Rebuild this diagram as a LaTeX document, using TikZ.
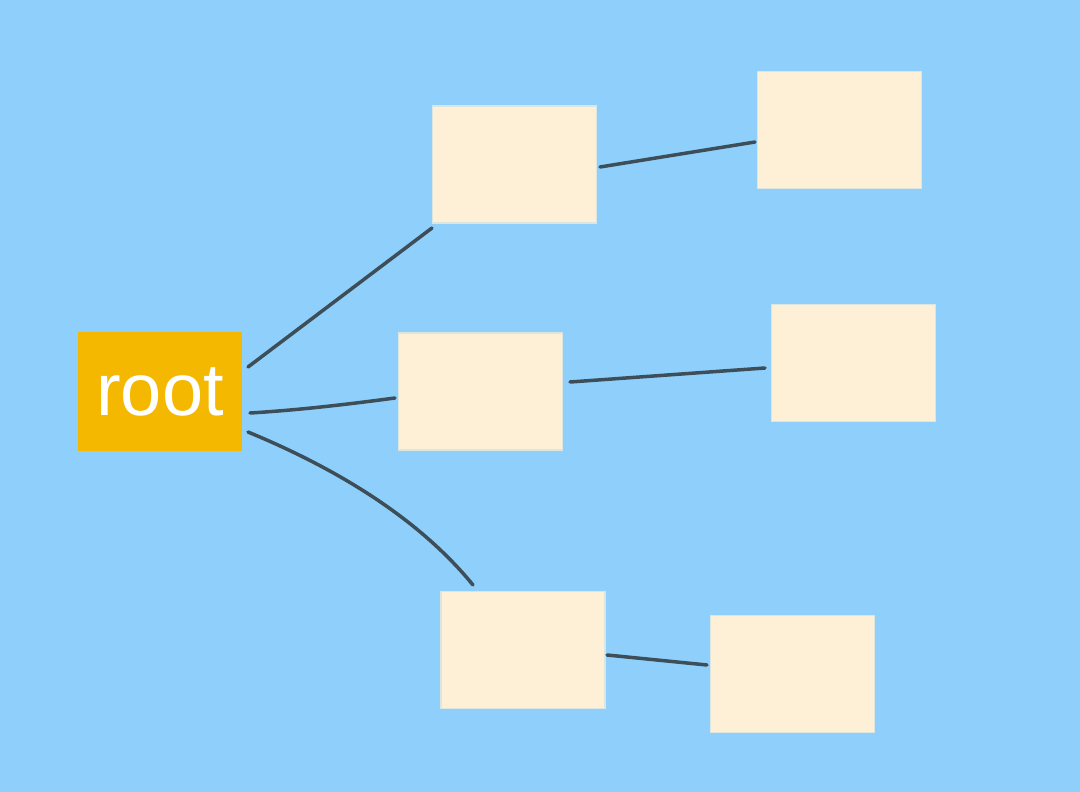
\documentclass[tikz,border=0pt]{standalone}
\usepackage{fontspec}
\setmainfont{Liberation Sans}
\definecolor{bgblue}{HTML}{8ED0FB}
\definecolor{rootorange}{HTML}{F5B800}
\definecolor{cream}{HTML}{FDF0D6}
\definecolor{edgegrey}{HTML}{3E4E58}
\begin{document}
\begin{tikzpicture}[x=1pt,y=-1pt,
  leaf/.style={fill=cream,draw=cream!70!bgblue,line width=1.5pt,minimum width=164pt,minimum height=117pt,inner sep=0pt},
  rootbox/.style={fill=rootorange,minimum width=164pt,minimum height=119pt,inner sep=0pt,text=white,font=\fontsize{74}{80}\selectfont},
  link/.style={draw=edgegrey,line width=3.5pt,line cap=round}]
\fill[bgblue] (0,0) rectangle (1080,792);
\useasboundingbox (0,0) rectangle (1080,792);
\node[rootbox] (root) at (160,391.5) {root};
\node[leaf] (A) at (514.5,164.5) {};
\node[leaf] (B) at (480.5,391.5) {};
\node[leaf] (C) at (523,650) {};
\node[leaf] (A2) at (839.5,130) {};
\node[leaf] (B2) at (853.5,363) {};
\node[leaf] (C2) at (792.5,674) {};
\coordinate (r1) at (248,367);
\coordinate (r2) at (250,413);
\coordinate (r3) at (248,432);
\coordinate (a1) at (432,228);
\coordinate (b1) at (395,398);
\coordinate (c1) at (473,585);
\coordinate (a2) at (600,167);
\coordinate (a3) at (755,142);
\coordinate (b2) at (570,382);
\coordinate (b3) at (765,368);
\coordinate (c2) at (607,655);
\coordinate (c3) at (707,665);
\draw[link] (r1) -- (a1);
\draw[link] (r2) .. controls (300,410) and (350,404) .. (b1);
\draw[link] (r3) .. controls (340,470) and (420,520) .. (c1);
\draw[link] (a2) -- (a3);
\draw[link] (b2) -- (b3);
\draw[link] (c2) -- (c3);
\end{tikzpicture}
\end{document}
